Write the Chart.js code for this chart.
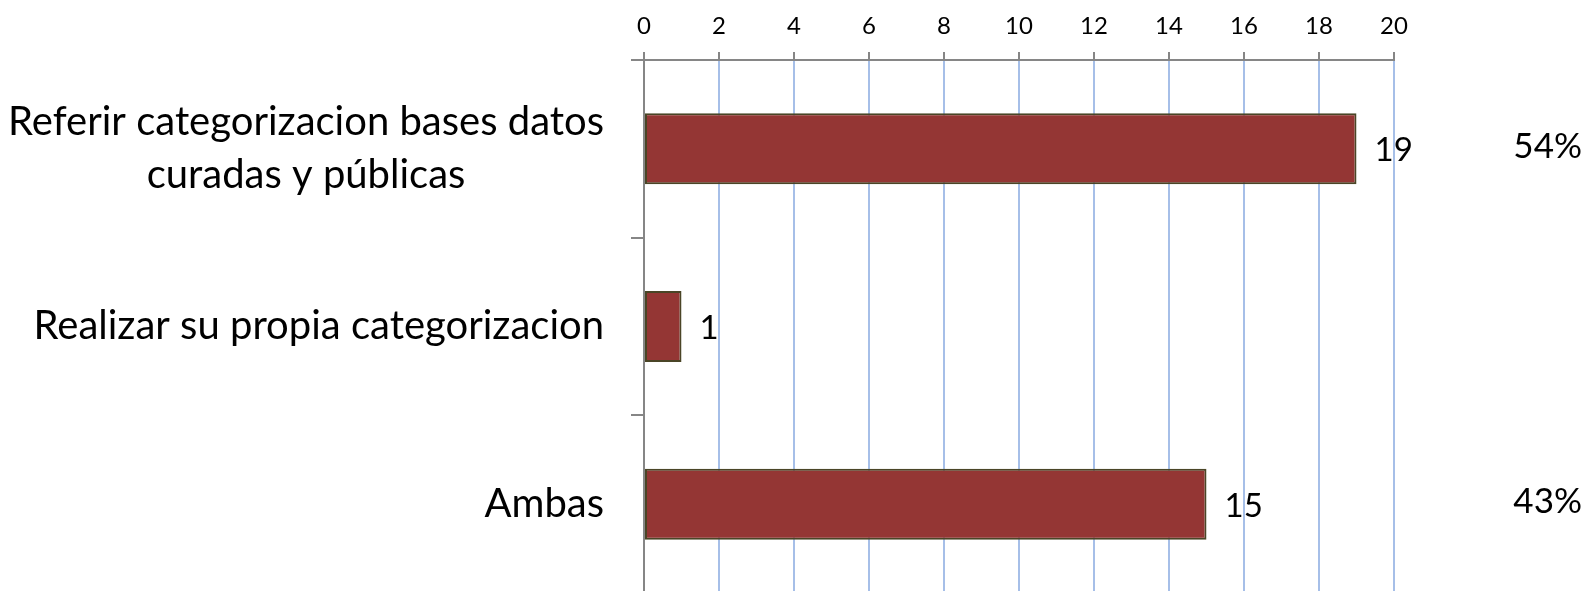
<!DOCTYPE html>
<html>
<head>
<meta charset="utf-8">
<script src="https://cdn.jsdelivr.net/npm/chart.js@4/dist/chart.umd.min.js"></script>
<style>
  html, body { margin: 0; padding: 0; background: #fff; overflow: hidden; }
  #wrap { width: 1587px; height: 600px; }
</style>
</head>
<body>
<div id="wrap"><canvas id="chart"></canvas></div>
<script>
// Chart data
const categories = [
  ['Referir categorizacion bases datos', 'curadas y públicas'],
  ['Realizar su propia categorizacion'],
  ['Ambas']
];
const counts = [19, 1, 15];
const shareLabels = ['54%', '', '43%'];
const xTicksMax = 20;
const xTickStep = 2;

const FONT = 'Lato, "Open Sans", sans-serif';

// Draws the category labels (right-aligned blocks, lines centred), value labels and shares
const labelPlugin = {
  id: 'labels',
  afterDatasetsDraw(chart) {
    const { ctx, scales: { x, y } } = chart;
    ctx.save();
    ctx.fillStyle = '#000';
    ctx.textBaseline = 'middle';

    // category labels
    ctx.font = '40px ' + FONT;
    const lineH = 53;
    const right = 604;
    categories.forEach((lines, i) => {
      const cy = y.getPixelForValue(i);
      const w = Math.max(...lines.map(l => ctx.measureText(l).width));
      const cx = right - w / 2;
      ctx.textAlign = 'center';
      lines.forEach((l, j) => {
        ctx.fillText(l, cx, cy + (j - (lines.length - 1) / 2) * lineH);
      });
    });

    // value labels
    ctx.font = '33px ' + FONT;
    ctx.textAlign = 'left';
    counts.forEach((v, i) => {
      ctx.fillText(String(v), x.getPixelForValue(v) + 18, y.getPixelForValue(i) + 2);
    });

    // share labels
    ctx.font = '35px ' + FONT;
    ctx.textAlign = 'right';
    shareLabels.forEach((s, i) => {
      if (s) ctx.fillText(s, 1582, y.getPixelForValue(i) - 2);
    });
    ctx.restore();
  }
};

new Chart(document.getElementById('chart'), {
  type: 'bar',
  data: {
    labels: categories,
    datasets: [{
      data: counts,
      backgroundColor: '#943634',
      borderColor: '#4a4526',
      borderWidth: 2,
      borderSkipped: false,
      barPercentage: 0.5,
      categoryPercentage: 0.8
    }]
  },
  options: {
    indexAxis: 'y',
    responsive: true,
    maintainAspectRatio: false,
    animation: false,
    layout: { padding: { left: 631, right: 193, top: 0, bottom: 7 } },
    plugins: { legend: { display: false }, tooltip: { enabled: false } },
    scales: {
      x: {
        position: 'top',
        min: 0,
        max: xTicksMax,
        ticks: { stepSize: xTickStep, color: '#000', font: { family: FONT, size: 24 }, padding: 11 },
        grid: { color: '#a6bfe8', lineWidth: 2, tickColor: '#868686', tickLength: 8 },
        border: { display: true, color: '#868686', width: 2 },
        afterFit: (s) => { s.height = 60; }
      },
      y: {
        ticks: { display: false },
        grid: { drawOnChartArea: false, color: '#868686', tickColor: '#868686', lineWidth: 2, tickLength: 13, offset: true },
        border: { display: true, color: '#868686', width: 2 },
        afterFit: (s) => { s.width = 13; }
      }
    }
  },
  plugins: [labelPlugin]
});
</script>
</body>
</html>
